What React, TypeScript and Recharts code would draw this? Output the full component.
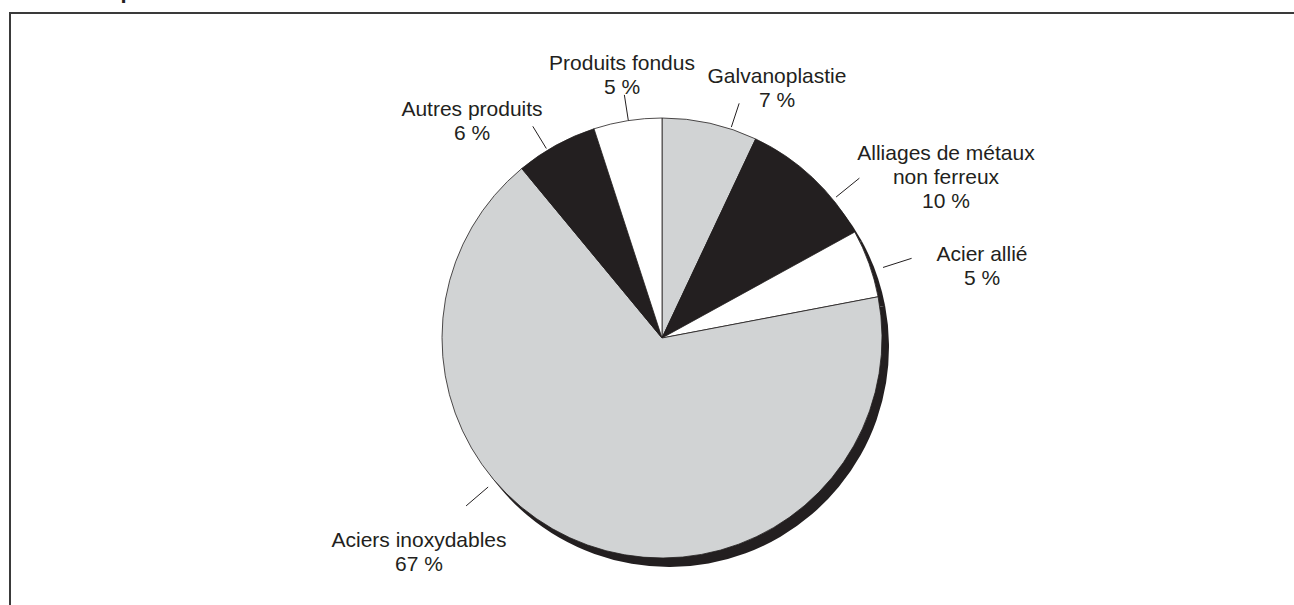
import { PieChart, Pie, Cell } from "recharts";

const categories = [
  "Galvanoplastie",
  "Alliages de métaux\nnon ferreux",
  "Acier allié",
  "Aciers inoxydables",
  "Autres produits",
  "Produits fondus",
];
const shares = [7, 10, 5, 67, 6, 5];
const sliceFills = ["#d1d3d4", "#231f20", "#ffffff", "#d1d3d4", "#231f20", "#ffffff"];

const data = categories.map((name, i) => ({ name, value: shares[i] }));

// leader line: angle in degrees clockwise from 12 o'clock, inner/outer radius
// text block: offset of first line centre from the pie centre
const labelLayout = [
  { angle: 18.2, r1: 222, r2: 247, dx: 115, dy: -263 },
  { angle: 51, r1: 224, r2: 254, dx: 284, dy: -186 },
  { angle: 72.3, r1: 232, r2: 262, dx: 320, dy: -85 },
  { angle: 229.4, r1: 229, r2: 258, dx: -243, dy: 201 },
  { angle: 328.6, r1: 222, r2: 248, dx: -190, dy: -230 },
  { angle: 351.2, r1: 220, r2: 246, dx: -40, dy: -276 },
];

const INK = "#231f20";
const FONT = "'Liberation Sans', Arial, Helvetica, sans-serif";

function SliceLabel(props: any) {
  const { cx, cy, index } = props;
  const l = labelLayout[index];
  const a = (l.angle * Math.PI) / 180;
  const x1 = cx + l.r1 * Math.sin(a);
  const y1 = cy - l.r1 * Math.cos(a);
  const x2 = cx + l.r2 * Math.sin(a);
  const y2 = cy - l.r2 * Math.cos(a);
  const lines = [...categories[index].split("\n"), `${shares[index]} %`];
  return (
    <g>
      <line x1={x1} y1={y1} x2={x2} y2={y2} stroke={INK} strokeWidth={1} />
      <text textAnchor="middle" fill={INK} fontSize={21} fontFamily={FONT}>
        {lines.map((t, i) => (
          <tspan key={i} x={cx + l.dx} y={cy + l.dy + i * 24 + 7.5}>
            {t}
          </tspan>
        ))}
      </text>
    </g>
  );
}

export default function App() {
  const cx = 662;
  const cy = 338;
  return (
    <div style={{ position: "fixed", left: 0, top: 0, width: 1294, height: 605, overflow: "hidden", background: "#fff" }}>
      <div
        style={{
          position: "absolute", left: 8, top: -20, fontFamily: FONT, fontWeight: "bold",
          fontSize: 22, lineHeight: "22px", color: INK, whiteSpace: "nowrap",
        }}
      >
        Utilisation primaire du nickel dans le monde
      </div>
      <div
        style={{
          position: "absolute", left: 9, top: 12, width: 1400, height: 700,
          borderTop: "2px solid #3a3a3a", borderLeft: "2px solid #3a3a3a",
        }}
      />
      <div style={{ position: "absolute", left: 0, top: 0 }}>
        <PieChart width={1294} height={605} margin={{ top: 0, right: 0, bottom: 0, left: 0 }}>
          <Pie
            data={data}
            dataKey="value"
            cx={cx + 7}
            cy={cy + 9}
            outerRadius={220}
            startAngle={90}
            endAngle={-270}
            stroke="none"
            isAnimationActive={false}
          >
            {data.map((d, i) => (
              <Cell key={i} fill={INK} />
            ))}
          </Pie>
          <Pie
            data={data}
            dataKey="value"
            cx={cx}
            cy={cy}
            outerRadius={220}
            startAngle={90}
            endAngle={-270}
            stroke={INK}
            strokeWidth={0.8}
            label={SliceLabel}
            labelLine={false}
            isAnimationActive={false}
          >
            {data.map((d, i) => (
              <Cell key={i} fill={sliceFills[i]} />
            ))}
          </Pie>
        </PieChart>
      </div>
    </div>
  );
}
